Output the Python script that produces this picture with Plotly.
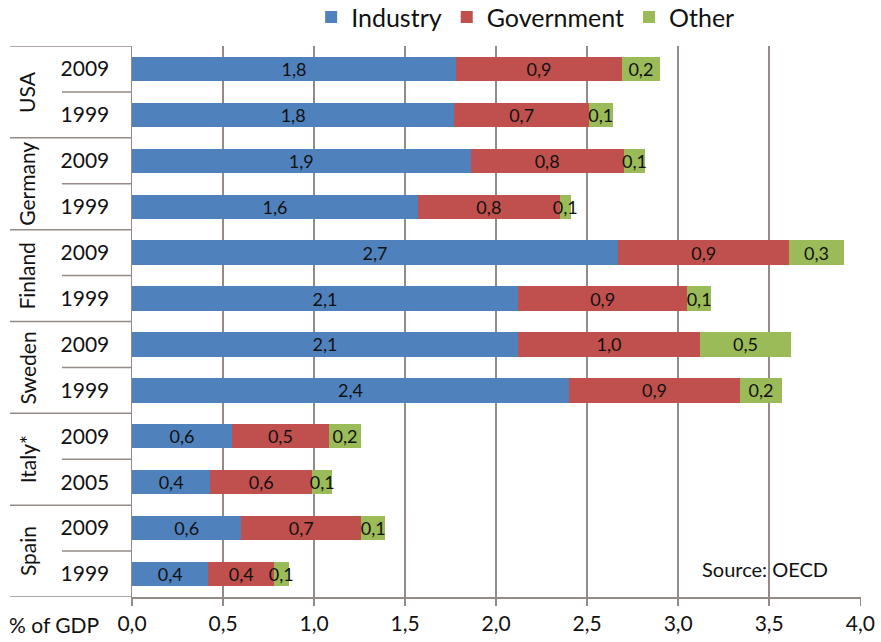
import plotly.graph_objects as go

countries = ["USA", "Germany", "Finland", "Sweden", "Italy*", "Spain"]
years = ["2009", "1999", "2009", "1999", "2009", "1999", "2009", "1999", "2009", "2005", "2009", "1999"]
industry = [1.78, 1.77, 1.86, 1.57, 2.67, 2.12, 2.12, 2.40, 0.55, 0.43, 0.60, 0.42]
government = [0.91, 0.74, 0.84, 0.78, 0.94, 0.93, 1.00, 0.94, 0.53, 0.56, 0.66, 0.36]
other = [0.21, 0.13, 0.12, 0.06, 0.30, 0.13, 0.50, 0.23, 0.18, 0.11, 0.13, 0.08]
xticks = [0, 0.5, 1.0, 1.5, 2.0, 2.5, 3.0, 3.5, 4.0]

FONT = "Lato"
GRID = "#958a86"
TXT = "#111111"
pos = list(range(len(years)))

def lab(vals):
    return [f"{v:.1f}".replace(".", ",") for v in vals]

fig = go.Figure()
for name, vals, col in [("Industry", industry, "#4F81BD"),
                        ("Government", government, "#C0504D"),
                        ("Other", other, "#9BBB59")]:
    fig.add_trace(go.Bar(
        y=pos, x=vals, name=name, orientation="h",
        marker=dict(color=col, line=dict(width=0)),
        text=lab(vals), textposition="inside", insidetextanchor="middle",
        textangle=0, constraintext="none",
        textfont=dict(family=FONT, size=18, color=TXT),
        hoverinfo="skip",
    ))

shapes = []
pw = 729.0
left_outer = -122 / pw
left_inner = -70 / pw
for i in range(len(years) + 1):
    yv = i - 0.5
    x0 = left_outer if i % 2 == 0 else left_inner
    shapes.append(dict(type="line", xref="paper", yref="y", x0=x0, x1=0,
                       y0=yv, y1=yv, line=dict(color=GRID, width=1.5), layer="below"))

annotations = []
for k, c in enumerate(countries):
    annotations.append(dict(text=c, xref="paper", yref="y", x=-105 / pw, y=2 * k + 0.5,
                            textangle=-90, showarrow=False,
                            font=dict(family=FONT, size=21, color=TXT),
                            xanchor="center", yanchor="middle"))
annotations.append(dict(text="% of GDP", xref="paper", yref="paper", x=-125 / pw, y=-0.05,
                        showarrow=False, xanchor="left", yanchor="middle",
                        font=dict(family=FONT, size=21, color=TXT)))
annotations.append(dict(text="Source: OECD", xref="x", yref="y", x=3.12, y=len(years) - 1 - 0.1,
                        showarrow=False, xanchor="left", yanchor="middle",
                        font=dict(family=FONT, size=20, color=TXT)))

fig.update_layout(
    barmode="stack", bargap=0.47,
    width=881, height=642,
    margin=dict(l=132, r=20, t=46, b=45, autoexpand=False),
    paper_bgcolor="white", plot_bgcolor="white",
    separators=", ",
    font=dict(family=FONT, size=20, color=TXT),
    legend=dict(orientation="h", x=0.54, xanchor="center", y=1.052, yanchor="middle",
                font=dict(family=FONT, size=25, color=TXT), traceorder="normal",
                itemwidth=30),
    shapes=shapes, annotations=annotations,
    xaxis=dict(range=[0, 4.004], tickvals=xticks, tickformat=".1f",
               showgrid=True, gridcolor=GRID, gridwidth=1.5,
               showline=True, linecolor=GRID, linewidth=1.5,
               ticks="outside", ticklen=7, tickcolor=GRID, tickwidth=1.5,
               tickfont=dict(family=FONT, size=21, color=TXT),
               zeroline=False, fixedrange=True, automargin=False),
    yaxis=dict(range=[len(years) - 0.5, -0.5], tickvals=pos, ticktext=years,
               showgrid=False, zeroline=False, showline=True, linecolor=GRID, linewidth=1.5,
               ticks="", ticklabelstandoff=17, automargin=False, fixedrange=True,
               tickfont=dict(family=FONT, size=21, color=TXT)),
)

fig.write_html("out.html", config={"displayModeBar": False, "staticPlot": True},
               post_script="document.body.style.margin='0';document.body.style.overflow='hidden';")
